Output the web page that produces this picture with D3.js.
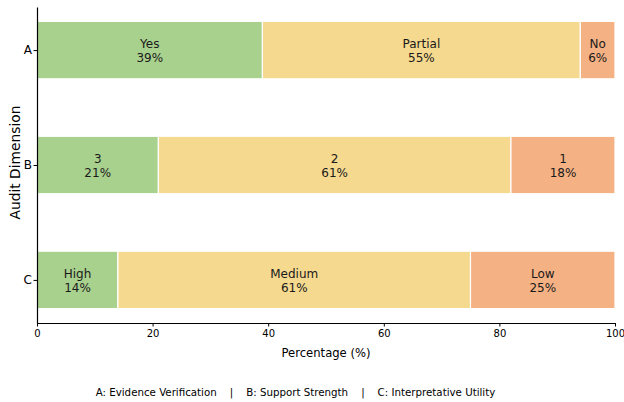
<!DOCTYPE html>
<html>
<head>
<meta charset="utf-8">
<script src="https://cdn.jsdelivr.net/npm/d3@7"></script>
<style>
  body { margin: 0; background: #fff; }
  svg { display: block; }
</style>
</head>
<body>
<svg id="chart" width="624" height="402"></svg>
<script>
const fontFamily = `"DejaVu Sans", sans-serif`;

// audit dimensions, top to bottom
const dimensions = ["A", "B", "C"];
// segment labels per dimension
const segmentLabels = [
  ["Yes", "Partial", "No"],
  ["3", "2", "1"],
  ["High", "Medium", "Low"],
];
// percentages per dimension (good, middle, bad)
const segmentValues = [
  [39, 55, 6],
  [21, 61, 18],
  [14, 61, 25],
];
const segmentColors = ["#a9d18e", "#f5d98f", "#f4b183"];
const xTicks = [0, 20, 40, 60, 80, 100];
const footnote = "A: Evidence Verification    |    B: Support Strength    |    C: Interpretative Utility";

const svg = d3.select("#chart").attr("font-family", fontFamily);

const plotLeft = 37, plotRight = 615, plotTop = 7, plotBottom = 323;
const barHeight = 0.5;

const x = d3.scaleLinear().domain([0, 100]).range([plotLeft, plotRight]);
const y = d3.scaleLinear().domain([-0.375, 2.375]).range([plotTop, plotBottom]);

// flatten segments into rows
const segments = [];
dimensions.forEach((dim, i) => {
  let start = 0;
  segmentValues[i].forEach((v, j) => {
    segments.push({ dim, i, j, start, value: v, label: segmentLabels[i][j] });
    start += v;
  });
});

svg.append("g")
  .attr("id", "bars")
  .selectAll("rect")
  .data(segments)
  .enter()
  .append("rect")
  .attr("x", (d) => x(d.start))
  .attr("y", (d) => y(d.i - barHeight / 2))
  .attr("width", (d) => x(d.start + d.value) - x(d.start))
  .attr("height", (d) => y(d.i + barHeight / 2) - y(d.i - barHeight / 2))
  .attr("fill", (d) => segmentColors[d.j])
  .attr("stroke", "#fff")
  .attr("stroke-width", 1.2);

const labels = svg.append("g")
  .attr("id", "bar-labels")
  .attr("font-size", 12)
  .attr("fill", "#1a1a1a")
  .attr("text-anchor", "middle")
  .selectAll("text")
  .data(segments)
  .enter()
  .append("text")
  .attr("transform", (d) => `translate(${x(d.start + d.value / 2)}, ${y(d.i)})`);

labels.selectAll("tspan")
  .data((d) => [d.label, `${d.value}%`])
  .enter()
  .append("tspan")
  .attr("x", 0)
  .attr("y", (d, i) => (i ? 12 : -2))
  .text((d) => d);

// x axis
const xAxis = svg.append("g")
  .attr("transform", `translate(0, ${plotBottom})`)
  .call(d3.axisBottom(x).tickValues(xTicks).tickSize(3.5).tickPadding(3.5).tickSizeOuter(0));
xAxis.select(".domain").attr("stroke", "#000").attr("stroke-width", 1.2);
xAxis.selectAll("text").attr("font-family", fontFamily).attr("font-size", 10).attr("fill", "#000");

// y axis
const yAxis = svg.append("g")
  .attr("transform", `translate(${plotLeft}, 0)`)
  .call(d3.axisLeft(y).tickValues([0, 1, 2]).tickFormat((d) => dimensions[d]).tickSize(3.5).tickPadding(1.5).tickSizeOuter(0));
yAxis.select(".domain").attr("stroke", "#000").attr("stroke-width", 1.2);
yAxis.selectAll("text").attr("font-family", fontFamily).attr("font-size", 12).attr("fill", "#000");

// axis titles
svg.append("text")
  .attr("x", (plotLeft + plotRight) / 2)
  .attr("y", 357)
  .attr("text-anchor", "middle")
  .attr("font-size", 11.6)
  .text("Percentage (%)");

svg.append("text")
  .attr("transform", `translate(20, 162.5) rotate(-90)`)
  .attr("text-anchor", "middle")
  .attr("font-size", 13.8)
  .text("Audit Dimension");

svg.append("text")
  .attr("x", 295.5)
  .attr("y", 396)
  .attr("text-anchor", "middle")
  .attr("font-size", 10.25)
  .attr("xml:space", "preserve")
  .style("white-space", "pre")
  .text(footnote);
</script>
</body>
</html>
